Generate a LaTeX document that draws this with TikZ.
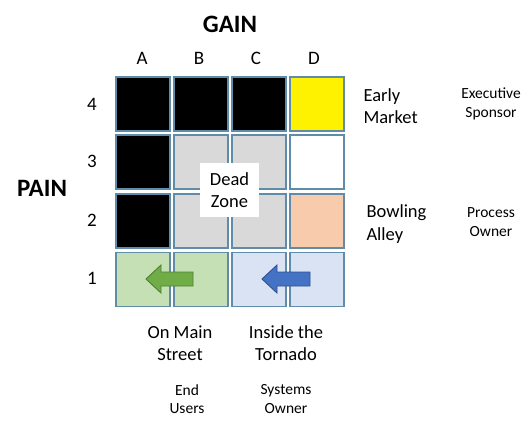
\documentclass[tikz,border=0pt]{standalone}
\usepackage{fontspec}
\setmainfont{Carlito}
\definecolor{cellline}{RGB}{96,140,170}
\definecolor{gray1}{RGB}{217,217,217}
\definecolor{peach}{RGB}{248,203,173}
\definecolor{greenl}{RGB}{197,224,180}
\definecolor{bluel}{RGB}{218,227,243}
\definecolor{greenA}{RGB}{112,173,71}
\definecolor{greenD}{RGB}{80,126,50}
\definecolor{blueA}{RGB}{68,114,196}
\definecolor{blueD}{RGB}{47,82,143}
\tikzset{
  cell/.style={draw=cellline, line width=1.1pt, minimum width=54pt, minimum height=54pt, inner sep=0pt},
  big/.style={font=\fontsize{25}{30}\selectfont\bfseries},
  lab/.style={font=\fontsize{19}{22}\selectfont},
  mid/.style={font=\fontsize{18.5}{22.5}\selectfont, align=left},
  midc/.style={font=\fontsize{18.5}{22.5}\selectfont, align=center},
  small/.style={font=\fontsize{15.5}{18.5}\selectfont, align=center},
  arrowshape/.style={line width=0.9pt, line join=miter}
}
\begin{document}
\begin{tikzpicture}[x=1pt,y=-1pt]
\useasboundingbox (0,0) rectangle (531,426);
\fill[white] (0,0) rectangle (531,426);
% title labels
\node[big] (gain) at (230,24) {GAIN};
\node[big] (pain) at (42,188) {PAIN};
% column labels
\node[lab] (lA) at (142,58) {A};
\node[lab] (lB) at (199,58) {B};
\node[lab] (lC) at (256,58) {C};
\node[lab] (lD) at (314,58) {D};
% row labels
\node[lab] (r4) at (92,104) {4};
\node[lab] (r3) at (92,161) {3};
\node[lab] (r2) at (92,220) {2};
\node[lab] (r1) at (92,278) {1};
% cells
\node[cell, fill=black] (A4) at (143,104) {};
\node[cell, fill=black] (B4) at (201,104) {};
\node[cell, fill=black] (C4) at (259,104) {};
\node[cell, fill=yellow] (D4) at (317,104) {};
\node[cell, fill=black] (A3) at (143,162) {};
\node[cell, fill=gray1] (B3) at (201,162) {};
\node[cell, fill=gray1] (C3) at (259,162) {};
\node[cell, fill=white] (D3) at (317,162) {};
\node[cell, fill=black] (A2) at (143,221) {};
\node[cell, fill=gray1] (B2) at (201,221) {};
\node[cell, fill=gray1] (C2) at (259,221) {};
\node[cell, fill=peach] (D2) at (317,221) {};
\node[cell, fill=greenl] (A1) at (143,279.5) {};
\node[cell, fill=greenl] (B1) at (201,279.5) {};
\node[cell, fill=bluel] (C1) at (259,279.5) {};
\node[cell, fill=bluel] (D1) at (317,279.5) {};
% dead zone
\node[fill=white, minimum width=59pt, minimum height=54pt, inner sep=0pt, midc] (dead) at (229.5,190) {Dead\\Zone};
% arrows
\draw[arrowshape, fill=greenA, draw=greenD] (146,279) -- (161,265) -- (161,272) -- (193,272) -- (193,286) -- (161,286) -- (161,293) -- cycle;
\draw[arrowshape, fill=blueA, draw=blueD] (262,279) -- (277,265) -- (277,272) -- (310,272) -- (310,286) -- (277,286) -- (277,293) -- cycle;
% right labels
\node[mid, anchor=west] (early) at (360,106) {Early\\Market};
\node[small] (exec) at (491,104) {Executive\\Sponsor};
\node[mid, anchor=west] (bowl) at (363,224) {Bowling\\Alley};
\node[small] (proc) at (491,222) {Process\\Owner};
% bottom labels
\node[midc] (main) at (180,343) {On Main\\Street};
\node[midc] (torn) at (286,343) {Inside the\\Tornado};
\node[small] (end) at (187,399) {End\\Users};
\node[small] (sys) at (286,399) {Systems\\Owner};
\end{tikzpicture}
\end{document}
